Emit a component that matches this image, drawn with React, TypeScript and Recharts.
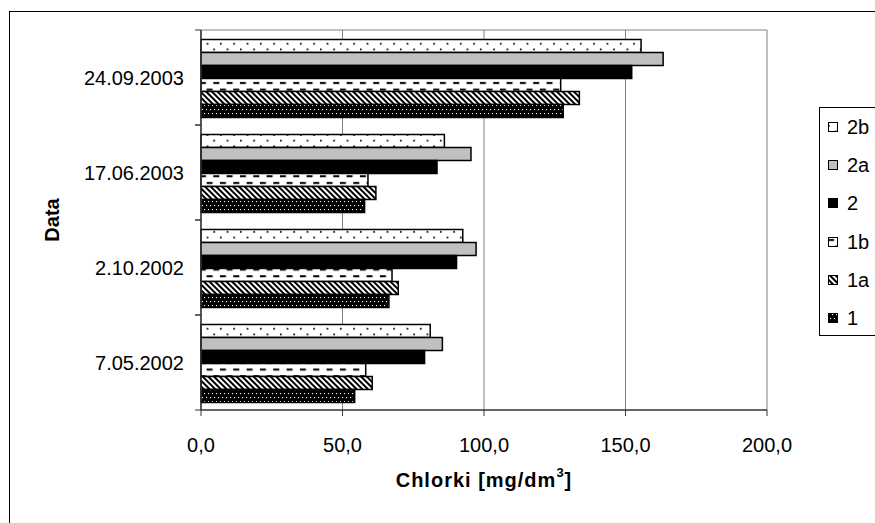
import React from "react";
import { BarChart, Bar, XAxis, YAxis, CartesianGrid, Legend } from "recharts";

const categories = ["24.09.2003", "17.06.2003", "2.10.2002", "7.05.2002"];
const s2b = [155.5, 86.0, 92.5, 81.0];
const s2a = [163.3, 95.4, 97.2, 85.3];
const s2 = [152.2, 83.4, 90.3, 79.0];
const s1b = [127.1, 59.0, 67.5, 58.2];
const s1a = [133.7, 61.8, 69.7, 60.5];
const s1 = [128.0, 57.8, 66.4, 54.3];
const seriesNames = ["2b", "2a", "2", "1b", "1a", "1"];
const xTicks = [0, 50, 100, 150, 200];

const seriesValues = [s2b, s2a, s2, s1b, s1a, s1];
const data = categories.map((c, i) => {
  const row: any = { date: c };
  seriesNames.forEach((n, k) => (row[n] = seriesValues[k][i]));
  return row;
});

const fills: Record<string, string> = {
  "2b": "url(#p2b)",
  "2a": "#C0C0C0",
  "2": "#000000",
  "1b": "url(#p1b)",
  "1a": "url(#p1a)",
  "1": "url(#p1)",
};

const FONT = "Arial, 'Liberation Sans', sans-serif";
const FS = 20;

const YTick = (props: any) => {
  const { x, y, payload } = props;
  const half = 47.5;
  return (
    <g>
      <line x1={x + 11} x2={x + 17} y1={y - half} y2={y - half} stroke="#333" />
      <line x1={x + 11} x2={x + 17} y1={y + half} y2={y + half} stroke="#333" />
      <text x={x} y={y} textAnchor="end" dominantBaseline="central" fontSize={FS} fontFamily={FONT} fill="#000">
        {payload.value}
      </text>
    </g>
  );
};

const LegendContent = () => (
  <div
    style={{
      border: "1px solid #000",
      height: 229,
      width: 60,
      boxSizing: "border-box",
      background: "#fff",
      fontFamily: FONT,
      fontSize: FS,
      color: "#000",
    }}
  >
    {seriesNames.map((n) => (
      <div key={n} style={{ height: 38.2, display: "flex", alignItems: "center", paddingLeft: 8 }}>
        <svg width={10} height={10} style={{ display: "block" }}>
          <rect x={0.5} y={0.5} width={9} height={9} fill={fills[n]} stroke="#000" strokeWidth={1} />
        </svg>
        <span style={{ marginLeft: 9, lineHeight: "20px" }}>{n}</span>
      </div>
    ))}
  </div>
);

export default function App() {
  return (
    <div style={{ position: "absolute", left: 0, top: 0, width: 875, height: 523, background: "#fff", overflow: "hidden" }}>
      <div
        style={{
          position: "absolute",
          left: 9,
          top: 11,
          width: 900,
          height: 600,
          borderLeft: "1px solid #000",
          borderTop: "1px solid #000",
        }}
      />
      <div style={{ position: "absolute", left: 0, top: 0 }}>
        <BarChart
          width={875}
          height={523}
          data={data}
          layout="vertical"
          barCategoryGap="10%"
          barGap={0}
          margin={{ top: 30, right: 48, bottom: 0, left: 0 }}
        >
          <defs>
            <pattern id="p2b" patternUnits="userSpaceOnUse" width={13.33} height={11.4}>
              <rect x={0} y={0} width={13.33} height={11.4} fill="#fff" />
              <rect x={0} y={3} width={1.7} height={1.7} fill="#000" />
              <rect x={6.67} y={8.7} width={1.7} height={1.7} fill="#000" />
            </pattern>
            <pattern id="p1b" patternUnits="userSpaceOnUse" width={13.33} height={13.33}>
              <rect x={0} y={0} width={13.33} height={13.33} fill="#fff" />
              <rect x={0} y={2} width={6} height={2} fill="#000" />
              <rect x={6.67} y={8.67} width={6} height={2} fill="#000" />
            </pattern>
            <pattern id="p1a" patternUnits="userSpaceOnUse" width={4} height={4} patternTransform="rotate(-45)">
              <rect x={0} y={0} width={4} height={4} fill="#fff" />
              <rect x={0} y={0} width={2} height={4} fill="#000" />
            </pattern>
            <pattern id="p1" patternUnits="userSpaceOnUse" width={4} height={8}>
              <rect x={0} y={0} width={4} height={8} fill="#000" />
              <rect x={0} y={1} width={1.1} height={1.1} fill="#fff" />
              <rect x={2} y={5} width={1.1} height={1.1} fill="#fff" />
            </pattern>
          </defs>
          <CartesianGrid horizontal={true} vertical={true} horizontalPoints={[30]} stroke="#808080" strokeWidth={1} />
          <XAxis
            type="number"
            domain={[0, 200]}
            ticks={xTicks}
            interval={0}
            tickFormatter={(v: number) => v.toFixed(1).replace(".", ",")}
            tickSize={6}
            tickMargin={22}
            height={113}
            axisLine={{ stroke: "#333", strokeWidth: 1.5 }}
            tickLine={{ stroke: "#333" }}
            tick={{ fontSize: FS, fontFamily: FONT, fill: "#000" }}
            label={(p: any) => {
              const vb = p.viewBox;
              return (
                <text
                  x={vb.x + vb.width / 2}
                  y={vb.y + 70}
                  textAnchor="middle"
                  dominantBaseline="central"
                  fontSize={FS}
                  fontWeight="bold"
                  fontFamily={FONT}
                  letterSpacing={1}
                  fill="#000"
                >
                  Chlorki [mg/dm
                  <tspan dy={-8} fontSize={13}>3</tspan>
                  <tspan dy={8}>]</tspan>
                </text>
              );
            }}
          />
          <YAxis
            type="category"
            dataKey="date"
            width={201}
            tickSize={0}
            tickMargin={17}
            axisLine={{ stroke: "#333", strokeWidth: 1.5 }}
            tickLine={false}
            tick={<YTick />}
            label={(p: any) => {
              const vb = p.viewBox;
              const cx = 52;
              const cy = vb.y + vb.height / 2;
              return (
                <text
                  x={cx}
                  y={cy}
                  transform={`rotate(-90, ${cx}, ${cy})`}
                  textAnchor="middle"
                  dominantBaseline="central"
                  fontSize={FS}
                  fontWeight="bold"
                  fontFamily={FONT}
                  fill="#000"
                >
                  Data
                </text>
              );
            }}
          />
          <Legend
            layout="vertical"
            align="right"
            verticalAlign="top"
            content={<LegendContent />}
            wrapperStyle={{ left: 819, top: 107, width: 60 }}
          />
          {seriesNames.map((n) => (
            <Bar key={n} dataKey={n} fill={fills[n]} stroke="#000" strokeWidth={1.5} isAnimationActive={false} />
          ))}
        </BarChart>
      </div>
    </div>
  );
}
